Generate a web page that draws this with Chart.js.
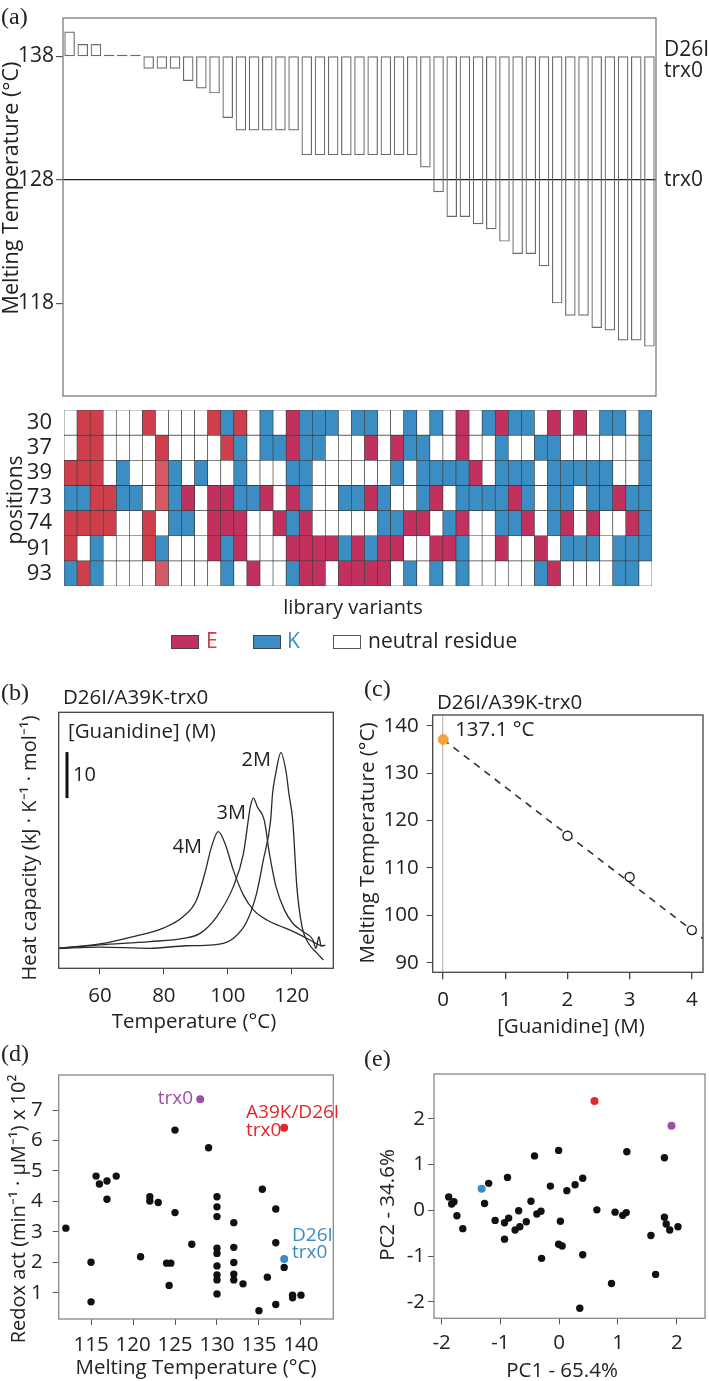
<!DOCTYPE html>
<html><head><meta charset="utf-8">
<script src="https://cdn.jsdelivr.net/npm/chart.js@4.4.1/dist/chart.umd.min.js"></script>
<style>
body{margin:0;background:#fff;width:709px;height:1381px;position:relative;overflow:hidden;font-family:'Open Sans',sans-serif;}
canvas{position:absolute;}
.pl{position:absolute;font-family:'Liberation Serif',serif;font-size:24px;line-height:24px;color:#222;}
</style></head><body>
<canvas id="cA" width="709" height="400" style="left:0;top:0"></canvas>
<canvas id="cH" width="709" height="260" style="left:0;top:400px"></canvas>
<canvas id="cB" width="350" height="372" style="left:0;top:670px"></canvas>
<canvas id="cC" width="359" height="372" style="left:350px;top:670px"></canvas>
<canvas id="cD" width="350" height="341" style="left:0;top:1040px"></canvas>
<canvas id="cE" width="359" height="341" style="left:350px;top:1040px"></canvas>
<div class="pl" style="left:1px;top:4px">(a)</div>
<div class="pl" style="left:1px;top:680px">(b)</div>
<div class="pl" style="left:364px;top:676px">(c)</div>
<div class="pl" style="left:1px;top:1041px">(d)</div>
<div class="pl" style="left:364px;top:1046px">(e)</div>
<script>
// ---------- data ----------
// (a) melting temperatures of library variants (°C)
const variantTm = [140,139,139,138,138,138,137,137,137,136,135.4,135,133,132,132,132,132,132,130,130,130,130,130,130,130,130,130,129,127,125,125,124.4,124,123,122,122,121,118,117,117,116,115.8,115,115,114.5];
const refTm = 138;      // D26I trx0
const trx0Tm = 128;     // trx0
const tmTicks = [118,128,138];
// heatmap: positions x variants ('.' neutral, K lysine, E/R/L glutamate shades)
const positions = ['30','37','39','73','74','91','93'];
const row30 = ".RR...R....RKR.K.EKKK.KK..K.K.E.KEKK.E.E.KK.K";
const row37 = ".RR....R....RK.KKEKK...E.EKK..E..K..KK......K";
const row39 = "RRR.K..LK.K..K...KK......K.KKKKE.KKK.KKKKK..K";
const row73 = "KKRRKK.LKE.EEKKE.EK..KKEK..KE.KKKKEK.KK.KKEKK";
const row74 = "RRRR..R.KK.EEE..EKE.....KKEE.KE..KKE.KE.E..EK";
const row91 = "R.K...RK...EKE...EEEEKEKEE..EEK..E..E.KKK.KKK";
const row93 = "KRK....L....K.E..KEE.EEEE.K.K.K.....KE....KK.";
const residueRows = [row30,row37,row39,row73,row74,row91,row93];
// (b) DSC traces
const dsc2mT  = [47.1,60,75.6,87.1,95.4,101.7,105.9,109.0,111.1,113.4,114.0,115.0,116.6,118.3,119.1,120.3,121.6,123.2,125.3,127.9,129.9];
const dsc2mCp = [4.35,4.6,4.35,4.9,5.1,6.5,10.1,16.3,23.5,32.2,38,42.4,46.9,42.4,38,32.2,17.7,9.1,5.4,3.3,1.8];
const dsc3mT  = [47.1,60,75.6,86.1,91.3,96.5,101.7,104.9,106.4,107.0,108.0,109.3,111.4,113.0,115.1,117.7,120.3,123.5,126.6,127.6,128.5,129.2,130.5];
const dsc3mCp = [4.35,5.1,5.8,6.5,7.6,11.2,17.7,25,32.2,35,37,35,32.2,25,17.7,12.7,9.8,8.0,6.2,4.35,6.9,4.9,5.0];
const dsc4mT  = [47.1,60,70.4,80,86,90.2,92.8,94.9,97,99.1,101.7,104.9,108,112.2,116.3,119.5,123.7,127.9,129.4];
const dsc4mCp = [4.35,5.3,6.9,8.8,11.2,14.8,20.6,26.4,29.7,27.2,21.4,15.9,12.7,10.5,9.2,8.3,6.9,5.3,4.8];
const scaleBarBase = 37, scaleBarSize = 10;
// (c) Tm vs guanidine
const gdmConc = [2,3,4];
const gdmTm = [116.8,108.1,96.9];
const extrapTm = 137.1;
const fitConc = [0,4.2];
const fitTm = [137.1,94.9];
// (d) redox activity vs Tm
const dTm  = [112.0,115,115,115.6,116.0,116.9,116.9,118.0,120.9,122.0,122.0,123.0,124.0,124.5,124.3,125.0,125.0,127.0,129.0,130,130,130,130,130,130,130,130,130,132,132,132,132,132,133.1,135,135.4,136.0,137,137,137,138,139,139,140];
const dAct = [3.12,2.0,0.7,4.83,4.57,4.67,4.07,4.83,2.18,4.15,4.01,3.96,1.97,1.97,1.24,3.63,6.34,2.59,5.76,4.15,3.82,3.50,2.46,2.29,1.88,1.58,1.42,0.96,3.30,2.49,1.99,1.61,1.42,1.29,0.41,4.40,1.51,3.75,2.64,0.61,1.83,0.92,0.83,0.92];
const trx0Pt = {tm:128.0, act:7.35};
const dblPt  = {tm:138.0, act:6.42};
const d26Pt  = {tm:138.0, act:2.11};
// (e) PCA
const ePC1 = [-1.88,-1.83,-1.79,-1.74,-1.64,-1.27,-1.20,-1.09,-0.93,-0.86,-0.93,-0.88,-0.75,-0.67,-0.69,-0.56,-0.48,-0.38,-0.31,-0.42,-0.30,-0.15,-0.01,0.02,-0.01,0.05,0.13,0.27,0.40,0.40,0.35,0.64,0.89,0.95,1.08,1.14,1.15,1.56,1.64,1.79,1.79,1.82,1.88,2.02];
const ePC2 = [0.29,0.14,0.19,-0.12,-0.40,0.15,0.59,-0.22,-0.27,-0.17,-0.63,0.72,-0.43,-0.36,-0.01,-0.25,0.20,-0.08,-0.02,1.19,-1.05,0.53,1.31,-0.24,-0.74,-0.78,0.43,0.56,0.70,-0.97,-2.14,0.01,-1.60,-0.04,-0.11,-0.05,1.28,-0.55,-1.40,1.15,-0.15,-0.30,-0.43,-0.36];
const pcaD26 = {x:-1.32, y:0.47};
const pcaDbl = {x:0.60, y:2.39};
const pcaTrx0 = {x:1.91, y:1.85};

// ---------- style ----------
const FONT = "'Open Sans', sans-serif";
const INK = '#222';
const C_E = '#c2315e', C_K = '#3b8ec3';
const residueColors = {'.':'#ffffff', R:'#cf3f4b', E:C_E, L:'#d45a65', K:C_K};
const C_PURPLE = '#9c4fa5', C_RED = '#e3262b', C_BLUE = '#3b8bc6', C_ORANGE = '#f2a43a';
Chart.defaults.font.family = FONT;
Chart.defaults.color = INK;
Chart.defaults.animation = false;
Chart.defaults.events = [];
Chart.defaults.plugins.legend.display = false;
Chart.defaults.plugins.tooltip.enabled = false;

const f = (s) => s + "px " + FONT;

const frame = {
  id:'frame',
  afterDraw(chart, args, o){
    if(!o.color) return;
    const a = chart.chartArea, c = chart.ctx;
    c.save(); c.strokeStyle = o.color; c.lineWidth = o.width || 1.2;
    c.strokeRect(a.left, a.top, a.right - a.left, a.bottom - a.top);
    c.restore();
  }
};
const texts = {
  id:'texts',
  afterDraw(chart, args, o){
    const c = chart.ctx;
    (o.rects || []).forEach(r => {
      c.save(); c.fillStyle = r.fill; c.fillRect(r.x, r.y, r.w, r.h);
      c.strokeStyle = r.stroke || '#444'; c.lineWidth = 1; c.strokeRect(r.x + 0.5, r.y + 0.5, r.w - 1, r.h - 1); c.restore();
    });
    (o.vbars || []).forEach(b => {
      const ys = chart.scales.y;
      c.save(); c.strokeStyle = b.color || '#111'; c.lineWidth = b.width || 3;
      c.beginPath(); c.moveTo(b.x, ys.getPixelForValue(b.v0)); c.lineTo(b.x, ys.getPixelForValue(b.v1)); c.stroke(); c.restore();
    });
    (o.items || []).forEach(t => {
      let x = t.x, y = t.y;
      if (t.xv !== undefined) x = chart.scales.x.getPixelForValue(t.xv) + (t.dx || 0);
      if (t.yv !== undefined) y = chart.scales.y.getPixelForValue(t.yv) + (t.dy || 0);
      c.save(); c.font = t.font; c.fillStyle = t.color || INK;
      c.textAlign = t.align || 'left'; c.textBaseline = 'middle';
      c.translate(x, y); if (t.rot) c.rotate(t.rot);
      c.fillText(t.text, 0, 0); c.restore();
    });
  }
};
Chart.register(frame, texts);
const ticksAt = (arr) => (s) => { s.ticks = arr.map(v => ({value:v})); };
const fitY = (w) => (s) => { s.width = w; s.paddingTop = 0; s.paddingBottom = 0; };
const fitX = (h) => (s) => { s.height = h; s.paddingLeft = 0; s.paddingRight = 0; };
const ROT = -Math.PI / 2;

// ---------- (a) bar chart ----------
new Chart(document.getElementById('cA'), {
  type:'bar',
  data:{
    labels: variantTm.map((_, i) => 'v' + (i + 1)),
    datasets:[{
      data: variantTm.map(v => [refTm, v]),
      backgroundColor:'rgba(255,255,255,0)', borderColor:'#6a6a6a', borderWidth:1.2,
      borderSkipped:false, minBarLength:1.5, barPercentage:0.8, categoryPercentage:1
    }]
  },
  options:{
    responsive:false,
    layout:{padding:{left:0, top:18, right:53, bottom:4}},
    plugins:{
      frame:{color:'#7a7a7a', width:1.3},
      texts:{items:[
        {text:'Melting Temperature (°C)', x:12, y:188, rot:ROT, font:f(21.5), align:'center'},
        {text:'D26I', x:664, yv:refTm, dy:-6, font:f(21)},
        {text:'trx0', x:664, yv:refTm, dy:15, font:f(21)},
        {text:'trx0', x:664, yv:trx0Tm, dy:0, font:f(21)}
      ]}
    },
    scales:{
      x:{display:false},
      y:{min:110.5, max:141.1, afterFit:fitY(63), afterBuildTicks:ticksAt(tmTicks),
        ticks:{font:{size:21}, color:INK, padding:2, autoSkip:false},
        grid:{color:(c) => (c.tick && c.tick.value === trx0Tm) ? '#222' : 'rgba(0,0,0,0)', lineWidth:1.2, tickLength:7, tickColor:'#555', drawOnChartArea:true},
        border:{display:false}}
    }
  }
});

// ---------- heatmap ----------
new Chart(document.getElementById('cH'), {
  type:'bar',
  data:{
    labels: variantTm.map((_, i) => 'v' + (i + 1)),
    datasets: residueRows.map((row, r) => ({
      label: positions[r],
      data: row.split('').map(() => [r, r + 1]),
      backgroundColor: row.split('').map(ch => residueColors[ch]),
      borderColor:'#3a3a3a', borderWidth:0.65, borderSkipped:false,
      barPercentage:1, categoryPercentage:1, grouped:false
    }))
  },
  options:{
    responsive:false,
    layout:{padding:{left:0, top:10, right:57, bottom:74}},
    plugins:{
      texts:{
        items:[
          {text:'positions', x:16, y:100, rot:ROT, font:f(21), align:'center'},
          {text:'library variants', x:353, y:208, font:f(20), align:'center'},
          {text:'E', x:206, y:242, font:f(21), color:'#d83848'},
          {text:'K', x:287, y:242, font:f(21), color:'#3a8fc8'},
          {text:'neutral residue', x:368, y:242, font:f(21)}
        ],
        rects:[
          {x:171, y:235, w:28, h:14, fill:C_E},
          {x:253, y:235, w:28, h:14, fill:C_K},
          {x:333, y:235, w:28, h:14, fill:'#ffffff', stroke:'#555'}
        ]
      }
    },
    scales:{
      x:{display:false},
      y:{min:0, max:7, reverse:true, afterFit:fitY(64),
        afterBuildTicks:ticksAt(positions.map((_, i) => i + 0.5)),
        ticks:{callback:(v, i) => positions[i], font:{size:22}, color:INK, padding:4, autoSkip:false},
        grid:{display:false}, border:{display:false}}
    }
  }
});

// ---------- (b) DSC ----------
const pts = (xs, ys) => xs.map((x, i) => ({x:x, y:ys[i]}));
const traceStyle = {borderColor:'#2a2a2a', borderWidth:1.3, pointRadius:0, cubicInterpolationMode:'monotone', fill:false};
new Chart(document.getElementById('cB'), {
  type:'line',
  data:{datasets:[
    Object.assign({label:'2M', data:pts(dsc2mT, dsc2mCp)}, traceStyle),
    Object.assign({label:'3M', data:pts(dsc3mT, dsc3mCp)}, traceStyle),
    Object.assign({label:'4M', data:pts(dsc4mT, dsc4mCp)}, traceStyle)
  ]},
  options:{
    responsive:false,
    layout:{padding:{left:58.7, top:42.3, right:16.7, bottom:0}},
    plugins:{
      frame:{color:'#444', width:1.3},
      texts:{
        vbars:[{x:67, v0:scaleBarBase, v1:scaleBarBase + scaleBarSize, width:3}],
        items:[
          {text:'D26I/A39K-trx0', x:63, y:28, font:f(20.5)},
          {text:'[Guanidine] (M)', x:68, y:62, font:f(20.5)},
          {text:'10', x:73, y:105, font:f(20)},
          {text:'2M', x:271, y:90, font:f(20), align:'right'},
          {text:'3M', x:246, y:143, font:f(20), align:'right'},
          {text:'4M', x:202, y:177, font:f(20), align:'right'},
          {text:'Heat capacity (kJ · K⁻¹ · mol⁻¹)', x:30, y:178, rot:ROT, font:f(20), align:'center'},
          {text:'Temperature (°C)', x:194, y:352, font:f(20.5), align:'center'}
        ]
      }
    },
    scales:{
      x:{type:'linear', min:47.1, max:133, afterFit:fitX(73.7), afterBuildTicks:ticksAt([60,80,100,120]),
        ticks:{font:{size:20.5}, color:INK, padding:10, autoSkip:false},
        grid:{drawOnChartArea:false, tickLength:6, tickColor:'#444'}, border:{display:false}},
      y:{type:'linear', display:false, min:0, max:55.65}
    }
  }
});

// ---------- (c) Tm vs guanidine ----------
new Chart(document.getElementById('cC'), {
  type:'scatter',
  data:{datasets:[
    {label:'extrapolated', data:[{x:0, y:extrapTm}], pointRadius:5, pointBackgroundColor:C_ORANGE, pointBorderColor:C_ORANGE, order:0},
    {label:'measured', data:pts(gdmConc, gdmTm), pointRadius:4.5, pointBackgroundColor:'#fff', pointBorderColor:'#222', pointBorderWidth:1.4, order:0},
    {label:'fit', data:pts(fitConc, fitTm), showLine:true, borderDash:[7,6], borderColor:'#333', borderWidth:1.6, pointRadius:0, order:1}
  ]},
  options:{
    responsive:false,
    layout:{padding:{left:0, top:45, right:1.5, bottom:0}},
    plugins:{
      frame:{color:'#444', width:1.3},
      texts:{items:[
        {text:'D26I/A39K-trx0', x:87, y:33, font:f(20.5)},
        {text:'137.1 °C', xv:0, yv:extrapTm, dx:12, dy:-9, font:f(20.5)},
        {text:'Melting Temperature (°C)', x:18, y:173, rot:ROT, font:f(20.5), align:'center'},
        {text:'[Guanidine] (M)', x:221, y:357, font:f(20.5), align:'center'}
      ]}
    },
    scales:{
      x:{type:'linear', min:-0.168, max:4.18, afterFit:fitX(69.7), afterBuildTicks:ticksAt([0,1,2,3,4]),
        ticks:{font:{size:20.5}, color:INK, padding:8.5, autoSkip:false},
        grid:{color:(c) => (c.tick && c.tick.value === 0) ? '#bdbdbd' : 'rgba(0,0,0,0)', lineWidth:1.3, drawOnChartArea:true, tickLength:7, tickColor:'#444'},
        border:{display:false}},
      y:{type:'linear', min:88, max:142.26, afterFit:fitY(82.7), afterBuildTicks:ticksAt([90,100,110,120,130,140]),
        ticks:{font:{size:20.5}, color:INK, padding:8, autoSkip:false},
        grid:{drawOnChartArea:false, tickLength:6, tickColor:'#444'}, border:{display:false}}
    }
  }
});

// ---------- (d) redox activity ----------
new Chart(document.getElementById('cD'), {
  type:'scatter',
  data:{datasets:[
    {label:'trx0', data:[{x:trx0Pt.tm, y:trx0Pt.act}], pointRadius:4, pointBackgroundColor:C_PURPLE, pointBorderWidth:0},
    {label:'A39K/D26I trx0', data:[{x:dblPt.tm, y:dblPt.act}], pointRadius:4, pointBackgroundColor:C_RED, pointBorderWidth:0},
    {label:'D26I trx0', data:[{x:d26Pt.tm, y:d26Pt.act}], pointRadius:4, pointBackgroundColor:C_BLUE, pointBorderWidth:0},
    {label:'variants', data:pts(dTm, dAct), pointRadius:3.7, pointBackgroundColor:'#111', pointBorderWidth:0}
  ]},
  options:{
    responsive:false,
    layout:{padding:{left:0, top:35, right:16.7, bottom:0}},
    plugins:{
      frame:{color:'#888', width:1.3},
      texts:{items:[
        {text:'trx0', x:193, y:59, font:f(19), color:C_PURPLE, align:'right'},
        {text:'A39K/D26I', x:246, y:73, font:f(19), color:C_RED},
        {text:'trx0', x:246, y:91, font:f(19), color:C_RED},
        {text:'D26I', x:292, y:196, font:f(19), color:C_BLUE},
        {text:'trx0', x:292, y:213, font:f(19), color:C_BLUE},
        {text:'Redox act (min⁻¹ · μM⁻¹) x 10²', x:19, y:169, rot:ROT, font:f(20), align:'center'},
        {text:'Melting Temperature (°C)', x:196, y:328, font:f(20.5), align:'center'}
      ]}
    },
    scales:{
      x:{type:'linear', min:111.15, max:143.85, afterFit:fitX(62), afterBuildTicks:ticksAt([115,120,125,130,135,140]),
        ticks:{font:{size:20.5}, color:INK, padding:8, autoSkip:false},
        grid:{drawOnChartArea:false, tickLength:6, tickColor:'#555'}, border:{display:false}},
      y:{type:'linear', min:0.136, max:8.15, afterFit:fitY(58.7), afterBuildTicks:ticksAt([1,2,3,4,5,6,7]),
        ticks:{font:{size:20.5}, color:INK, padding:10, autoSkip:false},
        grid:{drawOnChartArea:false, tickLength:6, tickColor:'#555'}, border:{display:false}}
    }
  }
});

// ---------- (e) PCA ----------
new Chart(document.getElementById('cE'), {
  type:'scatter',
  data:{datasets:[
    {label:'trx0', data:[pcaTrx0], pointRadius:4, pointBackgroundColor:C_PURPLE, pointBorderWidth:0},
    {label:'A39K/D26I trx0', data:[pcaDbl], pointRadius:4, pointBackgroundColor:C_RED, pointBorderWidth:0},
    {label:'D26I trx0', data:[pcaD26], pointRadius:4, pointBackgroundColor:C_BLUE, pointBorderWidth:0},
    {label:'variants', data:pts(ePC1, ePC2), pointRadius:3.7, pointBackgroundColor:'#111', pointBorderWidth:0}
  ]},
  options:{
    responsive:false,
    layout:{padding:{left:0, top:34, right:1, bottom:0}},
    plugins:{
      frame:{color:'#888', width:1.3},
      texts:{items:[
        {text:'PC2 - 34.6%', x:38, y:165, rot:ROT, font:f(20.5), align:'center'},
        {text:'PC1 - 65.4%', x:212, y:331, font:f(20.5), align:'center'}
      ]}
    },
    scales:{
      x:{type:'linear', min:-2.13, max:2.48, afterFit:fitX(62.7), afterBuildTicks:ticksAt([-2,-1,0,1,2]),
        ticks:{font:{size:20.5}, color:INK, padding:7, autoSkip:false},
        grid:{drawOnChartArea:false, tickLength:6, tickColor:'#555'}, border:{display:false}},
      y:{type:'linear', min:-2.36, max:2.98, afterFit:fitY(84), afterBuildTicks:ticksAt([-2,-1,0,1,2]),
        ticks:{font:{size:20.5}, color:INK, padding:3, autoSkip:false},
        grid:{drawOnChartArea:false, tickLength:6, tickColor:'#555'}, border:{display:false}}
    }
  }
});
</script>
</body></html>
